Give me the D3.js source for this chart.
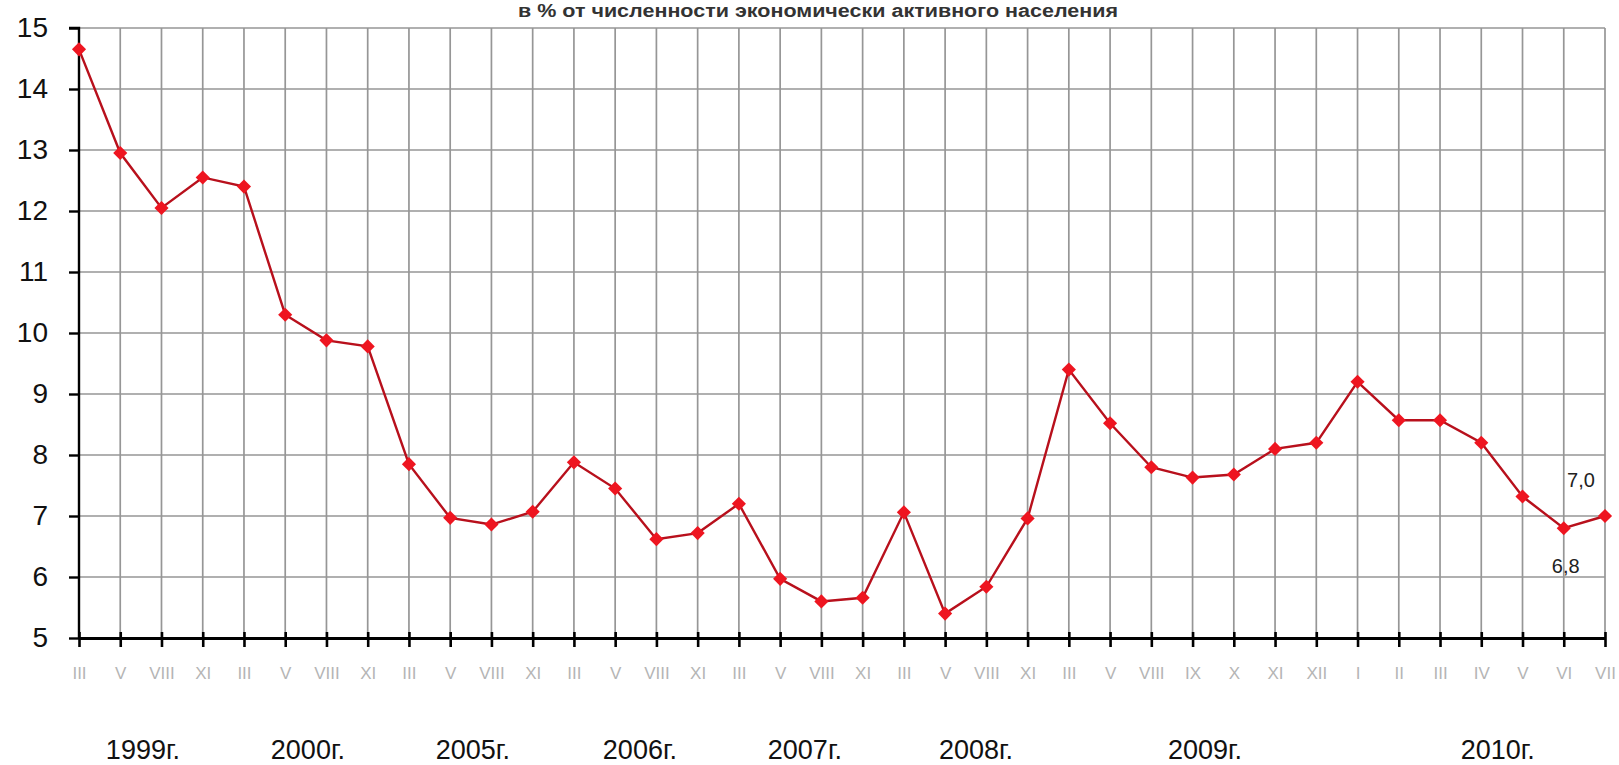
<!DOCTYPE html>
<html>
<head>
<meta charset="utf-8">
<script src="https://cdn.jsdelivr.net/npm/d3@7/dist/d3.min.js"></script>
<style>
  html, body { margin: 0; padding: 0; background: #fff; }
  svg { display: block; font-family: "Liberation Sans", Arial, sans-serif; }
</style>
</head>
<body>
<svg id="chart" width="1619" height="765"></svg>
<script>
// ---- data ----
const titleText = "в % от численности экономически активного населения";
const months = [
  "III","V","VIII","XI",
  "III","V","VIII","XI",
  "III","V","VIII","XI",
  "III","V","VIII","XI",
  "III","V","VIII","XI",
  "III","V","VIII","XI",
  "III","V","VIII","IX","X","XI","XII",
  "I","II","III","IV","V","VI","VII"
];
const years = ["1999г.","2000г.","2005г.","2006г.","2007г.","2008г.","2009г.","2010г."];
const yearCounts = [4,4,4,4,4,4,7,7];
const values = [
  14.65, 12.95, 12.05, 12.55,
  12.4, 10.3, 9.88, 9.78,
  7.85, 6.97, 6.86, 7.07,
  7.88, 7.45, 6.62, 6.72,
  7.2, 5.97, 5.6, 5.66,
  7.06, 5.4, 5.84, 6.96,
  9.4, 8.52, 7.8, 7.63, 7.68, 8.1, 8.2,
  9.2, 8.57, 8.57, 8.2, 7.32, 6.8, 7.0
];
const labeledPoints = [36, 37];
const yTicks = [5,6,7,8,9,10,11,12,13,14,15];

(function () {
  const svg = d3.select("#chart");
  const mL = 79, mR = 1605, mT = 28, mB = 638;

  const x = d3.scalePoint().domain(d3.range(values.length)).range([mL, mR]);
  const y = d3.scaleLinear().domain([5, 15]).range([mB, mT]);

  // title
  svg.append("text")
    .attr("x", 818).attr("y", 17)
    .attr("text-anchor", "middle")
    .attr("font-size", 18)
    .attr("font-weight", "bold")
    .attr("fill", "#333")
    .attr("textLength", 600)
    .attr("lengthAdjust", "spacingAndGlyphs")
    .text(titleText);

  // grid
  const grid = svg.append("g").attr("stroke", "#969696").attr("stroke-width", 1.7);
  grid.selectAll("line.h").data(yTicks.filter(d => d > 5)).join("line")
    .attr("class", "h")
    .attr("x1", mL).attr("x2", mR)
    .attr("y1", d => y(d)).attr("y2", d => y(d));
  grid.selectAll("line.v").data(d3.range(1, values.length)).join("line")
    .attr("class", "v")
    .attr("x1", d => x(d)).attr("x2", d => x(d))
    .attr("y1", mT).attr("y2", mB);

  // y axis
  const yAxis = d3.axisLeft(y).tickValues(yTicks).tickSize(10).tickPadding(21).tickFormat(d3.format("d"));
  const gy = svg.append("g").attr("transform", `translate(${mL},0)`).call(yAxis);
  gy.select(".domain").attr("stroke", "#000").attr("stroke-width", 2.4).attr("d", `M-10,${mT}H0V${mB}`);
  gy.selectAll(".tick line").attr("stroke", "#000").attr("stroke-width", 2.4);
  gy.selectAll(".tick text").attr("font-size", 28).attr("fill", "#111")
    .attr("font-family", "Liberation Sans, Arial, sans-serif");

  // x axis
  const xAxis = d3.axisBottom(x).tickSizeInner(9).tickSizeOuter(0).tickPadding(20).tickFormat(i => months[i]);
  const gx = svg.append("g").attr("transform", `translate(0,${mB})`).call(xAxis);
  gx.select(".domain").attr("stroke", "#000").attr("stroke-width", 2.8);
  gx.selectAll(".tick line").attr("stroke", "#000").attr("stroke-width", 2.6).attr("y1", -6);
  gx.selectAll(".tick text").attr("font-size", 17).attr("fill", "#b5b5b5")
    .attr("font-family", "Liberation Sans, Arial, sans-serif");

  // year labels
  const yearAnchor = [1.55, 5.55, 9.55, 13.6, 17.6, 21.75, 27.3, 34.4];
  svg.append("g").selectAll("text").data(years).join("text")
    .attr("x", (d, i) => mL + yearAnchor[i] * x.step())
    .attr("y", 759)
    .attr("text-anchor", "middle")
    .attr("font-size", 27)
    .attr("fill", "#111")
    .text(d => d);

  // line
  const line = d3.line().x((d, i) => x(i)).y(d => y(d));
  svg.append("path").datum(values)
    .attr("fill", "none")
    .attr("stroke", "#b8101c")
    .attr("stroke-width", 2.4)
    .attr("d", line);

  // markers (square turned 45° = diamond)
  const diamond = d3.symbol().type(d3.symbolSquare).size(100);
  svg.append("g").selectAll("path").data(values).join("path")
    .attr("transform", (d, i) => `translate(${x(i)},${y(d)}) rotate(45)`)
    .attr("d", diamond)
    .attr("fill", "#ee1520");

  // data labels
  const fmt = v => d3.format(".1f")(v).replace(".", ",");
  svg.append("g").selectAll("text").data(labeledPoints).join("text")
    .attr("x", i => i === values.length - 1 ? x(i) - 24 : x(i) + 2)
    .attr("y", i => i === values.length - 1 ? y(values[i]) - 29 : y(values[i]) + 45)
    .attr("text-anchor", "middle")
    .attr("font-size", 20)
    .attr("fill", "#222")
    .text(i => fmt(values[i]));
})();
</script>
</body>
</html>
